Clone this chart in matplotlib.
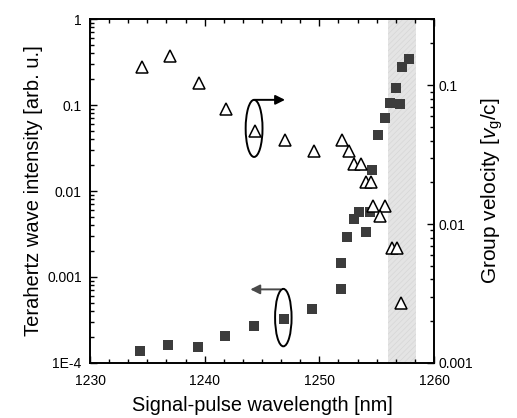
import matplotlib
matplotlib.use("Agg")
import matplotlib.pyplot as plt
from matplotlib.patches import Ellipse
from matplotlib.ticker import MultipleLocator, LogLocator, FixedLocator, FuncFormatter, NullFormatter

plt.rcParams['font.family'] = ['Liberation Sans', 'DejaVu Sans']
plt.rcParams['mathtext.fontset'] = 'custom'
plt.rcParams['mathtext.rm'] = 'Liberation Sans'
plt.rcParams['mathtext.it'] = 'Liberation Sans:italic'
plt.rcParams['hatch.linewidth'] = 0.5

# THz intensity (left axis, squares)
thz_wl = [1234.4, 1236.8, 1239.4, 1241.8, 1244.3, 1246.9, 1249.4, 1251.9, 1251.9,
          1252.4, 1253.0, 1253.5, 1254.1, 1254.4, 1254.6, 1255.1, 1255.7, 1256.2,
          1257.0, 1256.7, 1257.2, 1257.8]
thz_int = [1.38e-4, 1.62e-4, 1.55e-4, 2.07e-4, 2.69e-4, 3.22e-4, 4.25e-4, 7.25e-4, 1.44e-3,
           2.9e-3, 4.76e-3, 5.65e-3, 3.37e-3, 5.7e-3, 0.0175, 0.0448, 0.070, 0.105,
           0.103, 0.159, 0.274, 0.343]

# group velocity (right axis, triangles)
vg_wl = [1234.5, 1237.0, 1239.5, 1241.9, 1244.4, 1247.0, 1249.5, 1252.0, 1252.6,
         1253.0, 1253.6, 1254.1, 1254.5, 1254.7, 1255.7, 1255.3, 1256.3, 1256.8, 1257.1]
vg = [0.136, 0.162, 0.104, 0.068, 0.047, 0.0406, 0.0335, 0.0406, 0.0335,
      0.0269, 0.0269, 0.0201, 0.0201, 0.0135, 0.0135, 0.0115, 0.00668, 0.00668, 0.00272]

band = (1256.0, 1258.4)

left_ticks = [1e-4, 1e-3, 1e-2, 1e-1, 1]
left_labels = ['1E-4', '0.001', '0.01', '0.1', '1']
right_ticks = [1e-3, 1e-2, 1e-1]
right_labels = ['0.001', '0.01', '0.1']


def fixed_fmt(ticks, labels):
    return FuncFormatter(lambda v, p: labels[ticks.index(min(ticks, key=lambda t: abs(t - v)))])


fig = plt.figure(figsize=(5.17, 4.18), dpi=100)
ax = fig.add_axes([90/517, 55/418, 344/517, 344/418])

ax.axvspan(band[0], band[1], facecolor='#e4e4e4', edgecolor='#d6d6d6', hatch='//////',
           linewidth=0, zorder=0)
ax.plot(thz_wl, thz_int, 's', color='#3c3c3c', markersize=7.2, markeredgewidth=0, zorder=3)

ax.set_xlim(1230, 1260)
ax.set_yscale('log')
ax.set_ylim(1e-4, 1)
ax.xaxis.set_major_locator(MultipleLocator(10))
ax.xaxis.set_minor_locator(MultipleLocator(10/6))
ax.yaxis.set_major_locator(FixedLocator(left_ticks))
ax.yaxis.set_major_formatter(fixed_fmt(left_ticks, left_labels))
ax.yaxis.set_minor_locator(LogLocator(base=10, subs=range(2, 10)))
ax.yaxis.set_minor_formatter(NullFormatter())
ax.tick_params(which='both', direction='in', top=True, right=False, labelsize=10, width=1)
ax.tick_params(axis='y', pad=6)
ax.tick_params(axis='x', pad=8)
ax.tick_params(which='major', length=5)
ax.tick_params(which='minor', length=3)
for s in ax.spines.values():
    s.set_linewidth(1.2)

ax2 = ax.twinx()
ax2.plot(vg_wl, vg, '^', markerfacecolor='white', markeredgecolor='black',
         markersize=8.5, markeredgewidth=1.1, zorder=3)
ax2.set_yscale('log')
ax2.set_ylim(1e-3, 0.3)
ax2.yaxis.set_major_locator(FixedLocator(right_ticks))
ax2.yaxis.set_major_formatter(fixed_fmt(right_ticks, right_labels))
ax2.yaxis.set_minor_locator(LogLocator(base=10, subs=range(2, 10)))
ax2.yaxis.set_minor_formatter(NullFormatter())
ax2.tick_params(which='both', direction='in', labelsize=10, width=1, pad=3)
ax2.tick_params(which='major', length=5)
ax2.tick_params(which='minor', length=3)
for s in ax2.spines.values():
    s.set_linewidth(1.2)

ax.set_xlabel('Signal-pulse wavelength [nm]', fontsize=14.3, labelpad=6)
ax.set_ylabel('Terahertz wave intensity [arb. u.]', fontsize=14.5, labelpad=3)
ax2.set_ylabel('Group velocity [$v_\\mathrm{g}$/c]', fontsize=15, labelpad=5)

# ellipse + arrow markers pointing to each axis
ax2.add_patch(Ellipse((0.477, 0.682), 0.049, 0.166, transform=ax2.transAxes,
                      fill=False, edgecolor='black', linewidth=1.4, zorder=4))
ax2.annotate('', xy=(0.575, 0.765), xytext=(0.471, 0.765), xycoords='axes fraction',
             arrowprops=dict(arrowstyle='-|>', color='black', lw=1.4, mutation_scale=14))
ax2.add_patch(Ellipse((0.562, 0.132), 0.048, 0.167, transform=ax2.transAxes,
                      fill=False, edgecolor='black', linewidth=1.4, zorder=4))
ax2.annotate('', xy=(0.458, 0.214), xytext=(0.562, 0.214), xycoords='axes fraction',
             arrowprops=dict(arrowstyle='-|>', color='#4a4a4a', lw=1.4, mutation_scale=14))

fig.savefig('out.png', dpi=100)
